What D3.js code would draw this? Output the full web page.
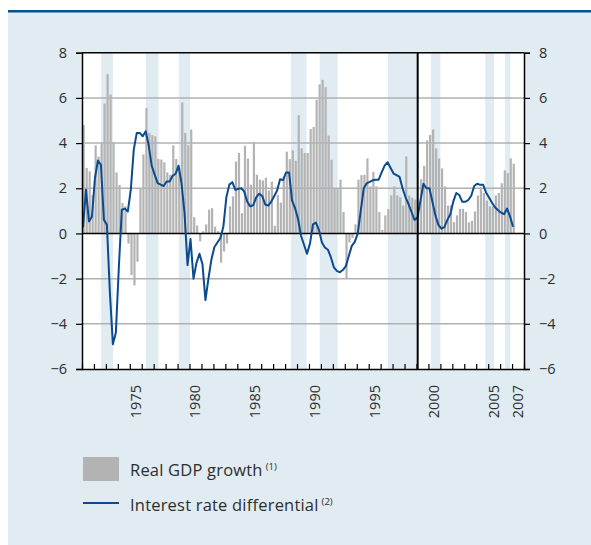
<!DOCTYPE html>
<html><head><meta charset="utf-8">
<script src="https://cdn.jsdelivr.net/npm/d3@7"></script>
<style>body{margin:0;background:#fff} svg{display:block} text{font-family:"Open Sans",sans-serif;}</style>
</head><body><svg id="c" width="591" height="545"></svg>
<script>
// Quarterly data, 1971 Q1 to 2007 Q1
const startYear = 1971;
const gdpGrowth = [4.8,2.9,2.75,1.7,3.9,3.4,4.0,5.75,7.05,6.15,
4.05,2.7,2.15,1.35,1.2,-0.45,-1.85,-2.3,-1.25,2.0,
3.5,5.55,4.45,4.35,4.3,3.3,3.27,3.15,2.7,2.6,
3.9,3.3,2.9,5.8,4.45,3.9,4.6,0.72,0.35,-0.35,
0.1,0.4,1.05,1.12,0.3,0.1,-1.3,-0.8,-0.45,1.2,
1.64,3.18,3.56,0.9,3.88,3.31,2.16,4.05,2.6,2.38,
2.35,2.47,1.9,2.29,0.34,1.71,1.37,2.53,3.62,3.29,
3.68,3.22,5.24,3.77,3.56,3.56,4.62,4.71,5.92,6.6,
6.8,6.47,4.33,3.26,2.0,2.0,2.38,0.95,-2.0,-0.4,
-0.2,0.4,2.38,2.58,2.6,3.32,2.08,2.73,2.08,0.95,
0.16,0.8,1.08,1.68,2.08,1.68,1.6,1.23,3.41,1.68,
1.58,1.5,0.9,2.4,2.99,4.12,4.36,4.6,3.77,3.32,
2.88,2.08,1.23,1.24,0.5,0.8,1.09,1.09,0.95,0.49,
0.56,0.97,1.68,2.04,1.79,1.45,1.2,1.2,1.68,1.79,
2.22,2.79,2.67,3.32,3.09];
const rateDiff = [0.28,1.93,0.53,0.75,2.45,3.23,3.04,0.6,0.38,-2.6,
-4.9,-4.4,-1.5,1.05,1.1,0.97,1.93,3.71,4.45,4.45,
4.3,4.52,3.9,3.0,2.6,2.23,2.16,2.1,2.3,2.3,
2.55,2.64,3.0,2.2,0.9,-1.4,-0.25,-2.0,-1.3,-0.9,
-1.36,-2.95,-2.0,-1.15,-0.6,-0.4,-0.2,0.3,1.6,2.16,
2.27,1.93,1.98,2.0,1.85,1.4,1.2,1.25,1.6,1.76,
1.66,1.28,1.23,1.4,1.65,1.9,2.4,2.36,2.7,2.7,
1.45,1.12,0.65,-0.1,-0.5,-0.9,-0.45,0.4,0.48,0.15,
-0.4,-0.62,-0.72,-1.05,-1.5,-1.66,-1.72,-1.62,-1.45,-1.0,
-0.55,-0.37,0.0,1.0,2.0,2.22,2.28,2.35,2.38,2.38,
2.7,3.0,3.15,2.9,2.65,2.58,2.5,2.0,1.6,1.3,
0.95,0.6,0.7,1.45,2.2,2.0,2.0,1.4,0.8,0.38,
0.21,0.28,0.6,0.85,1.42,1.79,1.7,1.4,1.4,1.48,
1.67,2.1,2.2,2.15,2.15,1.8,1.58,1.35,1.15,1.03,
0.92,0.85,1.1,0.75,0.3];
const shadedPeriods = [[1972.6,1973.6],[1976.35,1977.4],[1979.1,1980.05],[1988.5,1989.8],[1990.9,1992.4],[1996.6,1999.05],[2000.2,2001.0],[2004.75,2005.5],[2006.4,2006.85]];
const yTicks = [-6,-4,-2,0,2,4,6,8];
const gridValues = [-4,-2,2,4,6];
const xTickLabels = [1975,1980,1985,1990,1995,2000,2005,2007];
const yearTicks = d3.range(1971, 2009);
const euroLine = 1999.1;
const legendLabels = ["Real GDP growth","Interest rate differential"];
const legendNotes = ["(1)","(2)"];

const quarters = gdpGrowth.map((v,i)=>startYear + i/4);

const svg = d3.select("#c");
const panelBg = "#e0ebf2", ink = "#2e2e2e", lineBlue = "#0b4a8e";
svg.append("rect").attr("x",8).attr("y",11).attr("width",583).attr("height",534).attr("fill",panelBg);
svg.append("rect").attr("x",8).attr("y",10).attr("width",583).attr("height",2.5).attr("fill","#0b4f93");

const x = d3.scaleLinear().domain([1971,2008]).range([82,524]);
const y = d3.scaleLinear().domain([-6,8]).range([369,52.7]);

svg.append("rect").attr("x",x(1971)).attr("y",y(8)).attr("width",x(2008)-x(1971)).attr("height",y(-6)-y(8)).attr("fill","#fff");

svg.append("g").selectAll("rect").data(shadedPeriods).join("rect")
  .attr("x",d=>x(d[0])).attr("width",d=>x(d[1])-x(d[0]))
  .attr("y",y(8)).attr("height",y(-6)-y(8)).attr("fill",panelBg);

svg.append("g").selectAll("line").data(gridValues).join("line")
  .attr("x1",x(1971)).attr("x2",x(2008)).attr("y1",d=>y(d)).attr("y2",d=>y(d))
  .attr("stroke","#b0b0b0").attr("stroke-width",1.5);

svg.append("g").selectAll("rect").data(gdpGrowth).join("rect")
  .attr("x",(d,i)=>x(quarters[i])+0.6).attr("width",2.2)
  .attr("y",d=>y(Math.max(0,d))).attr("height",d=>Math.abs(y(d)-y(0)))
  .attr("fill","#b3b3b3");

svg.append("line").attr("x1",x(1971)).attr("x2",x(2008)).attr("y1",y(0)).attr("y2",y(0))
  .attr("stroke","#000").attr("stroke-width",1.5);

const line = d3.line().x((d,i)=>x(quarters[i])+1).y(d=>y(d));
svg.append("path").datum(rateDiff).attr("d",line).attr("fill","none")
  .attr("stroke",lineBlue).attr("stroke-width",2).attr("stroke-linejoin","round");

svg.append("line").attr("x1",x(euroLine)).attr("x2",x(euroLine)).attr("y1",y(8)).attr("y2",y(-6))
  .attr("stroke","#000").attr("stroke-width",2);

svg.append("line").attr("x1",x(1971)).attr("x2",x(2008)).attr("y1",y(8)).attr("y2",y(8))
  .attr("stroke","#000").attr("stroke-width",1.5);

const fmt = d => d<0 ? "\u2212"+Math.abs(d) : String(d);
const yl = svg.append("g").attr("transform",`translate(${x(1971)},0)`)
  .call(d3.axisLeft(y).tickValues(yTicks).tickSize(6).tickPadding(9).tickFormat(fmt));
const yr = svg.append("g").attr("transform",`translate(${x(2008)},0)`)
  .call(d3.axisRight(y).tickValues(yTicks).tickSize(6).tickPadding(9).tickFormat(fmt));
const xb = svg.append("g").attr("transform",`translate(0,${y(-6)})`)
  .call(d3.axisBottom(x).tickValues(yearTicks).tickSize(-5).tickSizeOuter(0).tickFormat(""));
[yl,yr,xb].forEach(g=>{
  g.select(".domain").attr("stroke","#000").attr("stroke-width",1.5);
  g.selectAll(".tick line").attr("stroke","#000").attr("stroke-width",1.2);
  g.selectAll("text").attr("font-family","'Open Sans',sans-serif").attr("font-size",14.5).attr("fill",ink);
});

svg.append("g").selectAll("text").data(xTickLabels).join("text")
  .attr("transform",d=>`translate(${x(d+0.5)+5},385) rotate(-90)`)
  .attr("text-anchor","end").attr("font-size",14.5).attr("fill",ink).text(d=>d);

// legend
const lg = svg.append("g");
lg.append("rect").attr("x",83).attr("y",457).attr("width",36).attr("height",24).attr("fill","#b3b3b3");
lg.append("line").attr("x1",83).attr("x2",119).attr("y1",503).attr("y2",503).attr("stroke",lineBlue).attr("stroke-width",2);
[0,1].forEach(k=>{
  const t = lg.append("text").attr("x",130).attr("y",k===0?476:511).attr("font-size",16.5).attr("letter-spacing",0.2).attr("fill",ink);
  t.append("tspan").text(legendLabels[k]);
  t.append("tspan").attr("dx",3).attr("dy",-6).attr("font-size",9.5).attr("letter-spacing",0).text(legendNotes[k]);
});
</script></body></html>
